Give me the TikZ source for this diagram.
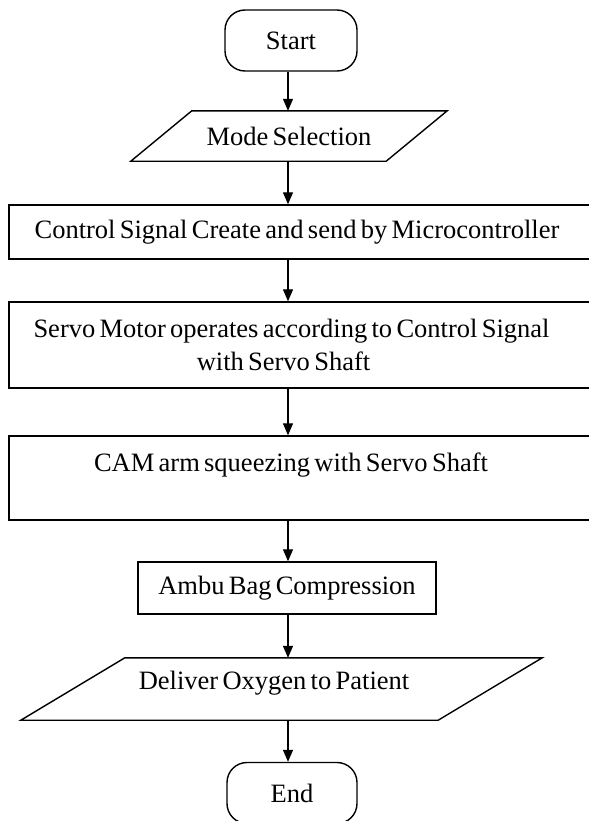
\documentclass[tikz,border=0pt]{standalone}
\usepackage{fontspec}
\setmainfont{Liberation Serif}[WordSpace=0.65]
\usetikzlibrary{arrows.meta,calc}
\begin{document}
\begin{tikzpicture}[x=1bp,y=-1bp,
  txt/.style={inner sep=0pt, font=\fontsize{26.5bp}{33bp}\selectfont},
  box/.style={txt, draw=black, line width=1.4bp, rectangle},
  term/.style={box, rounded corners=20bp},
  para/.style={txt},
  pline/.style={draw=black, line width=1.4bp},
  arr/.style={line width=1.3bp, -{Triangle[length=12bp,width=10bp]}}]
\useasboundingbox (0,0) rectangle (589,821);
\clip (0,0) rectangle (589,821);
\coordinate (ax) at (288,0);

\node[term, minimum width=132bp, minimum height=61bp] (start) at (291,40.5) {Start};

\node[para, minimum width=255bp, minimum height=50bp] (mode) at (289,136) {Mode Selection};
\draw[pline] ([xshift=30.5bp]mode.north west) -- ([xshift=30.5bp]mode.north east)
  -- ([xshift=-30.5bp]mode.south east) -- ([xshift=-30.5bp]mode.south west) -- cycle;

\node[box, minimum width=591bp, minimum height=54bp] (ctrl) at (304.5,232)
  {Control Signal Create and send by Microcontroller\hspace*{15bp}};

\node[box, align=center, minimum width=591bp, minimum height=86bp] (servo) at (304.5,345)
  {Servo Motor operates according to Control Signal\hspace*{26bp}\\ with Servo Shaft\hspace*{42bp}};

\node[box, minimum width=591bp, minimum height=84bp] (cam) at (304.5,478)
  {\rule[-32bp]{0pt}{1bp}CAM arm squeezing with Servo Shaft\hspace*{27bp}};

\node[box, minimum width=298bp, minimum height=52bp] (ambu) at (287,588) {Ambu Bag Compression};

\node[para, minimum width=417bp, minimum height=62bp] (dlv) at (281.5,689)
  {\rule[-18bp]{0pt}{1bp}Deliver Oxygen to Patient\hspace*{15bp}};
\draw[pline] ([xshift=52bp]dlv.north west) -- ([xshift=52bp]dlv.north east)
  -- ([xshift=-52bp]dlv.south east) -- ([xshift=-52bp]dlv.south west) -- cycle;

\node[term, minimum width=130bp, minimum height=61bp] (end) at (292,793) {End};

\draw[arr] (start.south -| ax) -- (mode.north -| ax);
\draw[arr] (mode.south -| ax) -- (ctrl.north -| ax);
\draw[arr] (ctrl.south -| ax) -- (servo.north -| ax);
\draw[arr] (servo.south -| ax) -- (cam.north -| ax);
\draw[arr] (cam.south -| ax) -- (ambu.north -| ax);
\draw[arr] (ambu.south -| ax) -- (dlv.north -| ax);
\draw[arr] (dlv.south -| ax) -- (end.north -| ax);
\end{tikzpicture}
\end{document}
